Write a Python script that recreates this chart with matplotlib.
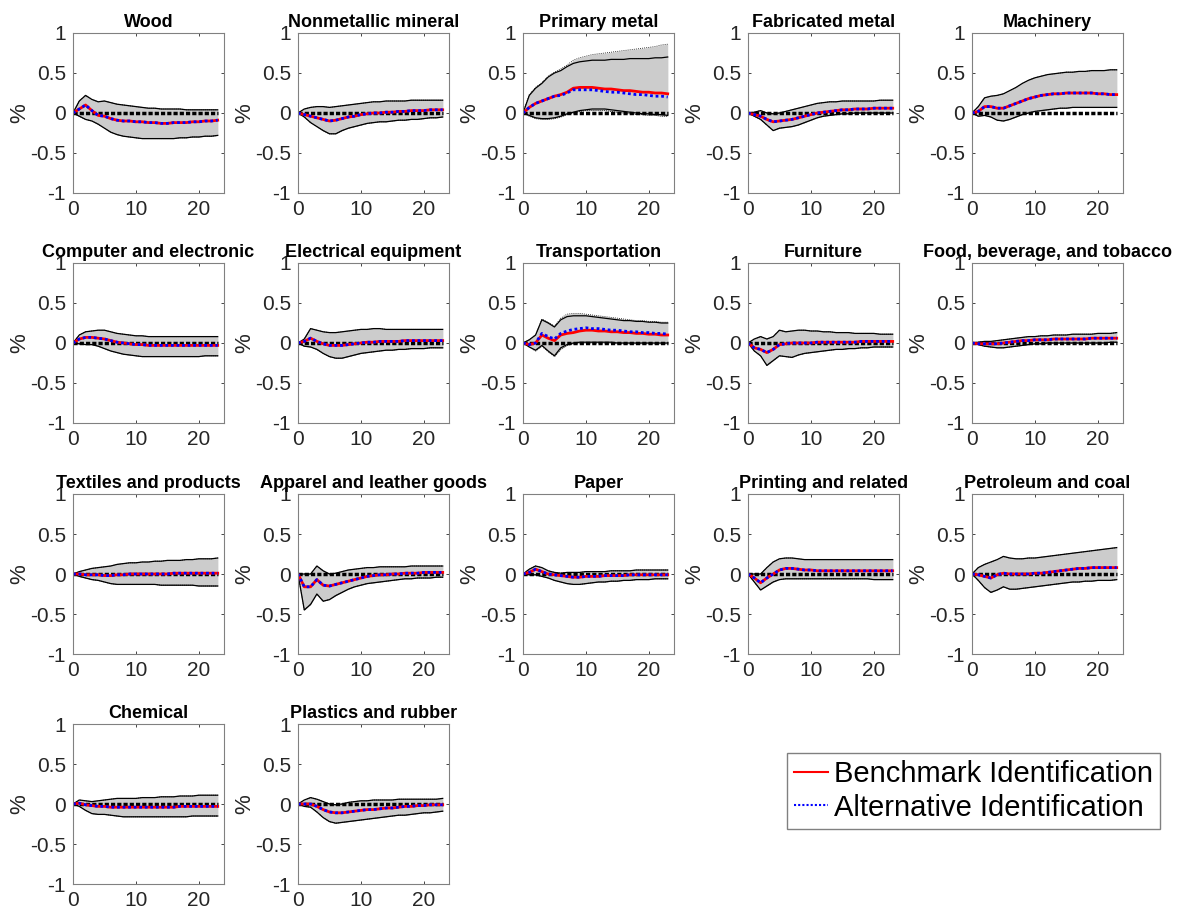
import numpy as np
import matplotlib
matplotlib.use("Agg")
import matplotlib.pyplot as plt

plt.rcParams["font.family"] = ["Liberation Sans", "DejaVu Sans"]

# impulse responses by industry, horizons 0..23 (months)
horizon = np.arange(24)

wood_up = [0, 0.15, 0.22, 0.17, 0.14, 0.15, 0.13, 0.11, 0.10, 0.09, 0.08, 0.07, 0.06, 0.06, 0.05, 0.05, 0.05, 0.05, 0.04, 0.04, 0.04, 0.04, 0.04, 0.04]
wood_lo = [0, -0.04, -0.08, -0.10, -0.14, -0.19, -0.24, -0.27, -0.29, -0.30, -0.31, -0.32, -0.32, -0.32, -0.32, -0.32, -0.32, -0.31, -0.31, -0.30, -0.30, -0.29, -0.29, -0.28]
wood_irf = [0, 0.05, 0.10, 0.03, -0.03, -0.04, -0.07, -0.09, -0.10, -0.10, -0.11, -0.11, -0.12, -0.12, -0.13, -0.13, -0.12, -0.12, -0.12, -0.11, -0.11, -0.10, -0.10, -0.09]

nonmet_up = [0, 0.05, 0.07, 0.08, 0.08, 0.07, 0.08, 0.09, 0.10, 0.11, 0.12, 0.13, 0.14, 0.14, 0.15, 0.15, 0.15, 0.15, 0.16, 0.16, 0.16, 0.16, 0.16, 0.16]
nonmet_lo = [0, -0.05, -0.12, -0.17, -0.22, -0.26, -0.26, -0.22, -0.19, -0.17, -0.15, -0.13, -0.12, -0.11, -0.11, -0.10, -0.09, -0.09, -0.08, -0.08, -0.07, -0.06, -0.06, -0.05]
nonmet_irf = [0, -0.02, -0.04, -0.06, -0.08, -0.10, -0.09, -0.07, -0.05, -0.04, -0.02, -0.01, 0, 0, 0.01, 0.01, 0.02, 0.02, 0.03, 0.03, 0.03, 0.04, 0.04, 0.04]

pmetal_up = [0, 0.22, 0.31, 0.37, 0.45, 0.50, 0.53, 0.58, 0.62, 0.64, 0.65, 0.66, 0.66, 0.66, 0.67, 0.67, 0.67, 0.68, 0.68, 0.68, 0.68, 0.69, 0.69, 0.70]
pmetal_lo = [0, -0.03, -0.06, -0.07, -0.07, -0.06, -0.04, -0.01, 0.01, 0.03, 0.04, 0.05, 0.05, 0.05, 0.04, 0.03, 0.02, 0.01, 0.0, -0.01, -0.01, -0.02, -0.02, -0.03]
pmetal_irf = [0, 0.07, 0.12, 0.15, 0.18, 0.21, 0.23, 0.26, 0.31, 0.32, 0.32, 0.32, 0.31, 0.30, 0.30, 0.29, 0.28, 0.28, 0.27, 0.26, 0.26, 0.25, 0.25, 0.24]
pmetal_alt_up = [0, 0.23, 0.32, 0.38, 0.46, 0.51, 0.55, 0.60, 0.66, 0.69, 0.71, 0.73, 0.74, 0.75, 0.76, 0.77, 0.78, 0.79, 0.80, 0.81, 0.82, 0.83, 0.85, 0.86]
pmetal_alt_lo = [0, -0.04, -0.07, -0.08, -0.08, -0.07, -0.05, -0.02, 0.0, 0.02, 0.03, 0.03, 0.03, 0.03, 0.02, 0.01, 0.0, -0.01, -0.02, -0.02, -0.03, -0.03, -0.04, -0.04]
pmetal_alt = [0, 0.07, 0.12, 0.15, 0.18, 0.21, 0.22, 0.25, 0.29, 0.29, 0.29, 0.29, 0.28, 0.27, 0.26, 0.26, 0.25, 0.24, 0.23, 0.23, 0.22, 0.21, 0.21, 0.20]

fabmet_up = [0, 0.01, 0.03, 0.0, -0.01, 0.0, 0.02, 0.04, 0.06, 0.08, 0.10, 0.12, 0.13, 0.14, 0.14, 0.15, 0.15, 0.15, 0.15, 0.15, 0.15, 0.16, 0.16, 0.16]
fabmet_lo = [0, -0.04, -0.08, -0.15, -0.22, -0.19, -0.18, -0.17, -0.15, -0.12, -0.09, -0.06, -0.04, -0.03, -0.02, -0.01, -0.01, 0, 0, 0, 0, 0, 0, 0]
fabmet_irf = [0, -0.02, -0.04, -0.08, -0.11, -0.10, -0.09, -0.08, -0.06, -0.04, -0.02, 0, 0.01, 0.02, 0.03, 0.04, 0.04, 0.05, 0.05, 0.05, 0.06, 0.06, 0.06, 0.06]

mach_up = [0, 0.08, 0.19, 0.21, 0.22, 0.24, 0.28, 0.32, 0.37, 0.41, 0.44, 0.46, 0.48, 0.49, 0.50, 0.51, 0.51, 0.52, 0.52, 0.53, 0.53, 0.53, 0.54, 0.54]
mach_lo = [0, -0.04, -0.03, -0.05, -0.09, -0.10, -0.08, -0.05, -0.02, 0.0, 0.02, 0.03, 0.04, 0.05, 0.06, 0.06, 0.07, 0.07, 0.07, 0.07, 0.07, 0.07, 0.07, 0.07]
mach_irf = [0, 0.02, 0.08, 0.08, 0.06, 0.06, 0.09, 0.12, 0.15, 0.18, 0.20, 0.22, 0.23, 0.24, 0.24, 0.25, 0.25, 0.25, 0.25, 0.25, 0.24, 0.24, 0.23, 0.23]

comp_up = [0, 0.10, 0.14, 0.15, 0.16, 0.16, 0.14, 0.12, 0.11, 0.10, 0.09, 0.09, 0.08, 0.08, 0.08, 0.08, 0.08, 0.08, 0.08, 0.08, 0.08, 0.08, 0.08, 0.08]
comp_lo = [0, -0.01, -0.02, -0.02, -0.04, -0.07, -0.10, -0.12, -0.14, -0.15, -0.16, -0.17, -0.17, -0.17, -0.17, -0.17, -0.17, -0.17, -0.17, -0.17, -0.17, -0.16, -0.16, -0.16]
comp_irf = [0, 0.05, 0.07, 0.07, 0.06, 0.05, 0.03, 0.01, 0.0, -0.01, -0.02, -0.02, -0.03, -0.03, -0.03, -0.03, -0.03, -0.03, -0.03, -0.03, -0.03, -0.03, -0.03, -0.03]

elec_up = [0, 0.05, 0.18, 0.16, 0.14, 0.13, 0.13, 0.14, 0.15, 0.16, 0.17, 0.17, 0.18, 0.18, 0.17, 0.17, 0.17, 0.17, 0.17, 0.17, 0.17, 0.17, 0.17, 0.17]
elec_lo = [0, -0.04, -0.05, -0.08, -0.13, -0.17, -0.19, -0.19, -0.17, -0.15, -0.13, -0.12, -0.11, -0.10, -0.09, -0.09, -0.08, -0.08, -0.07, -0.07, -0.07, -0.06, -0.06, -0.06]
elec_irf = [0, 0.02, 0.06, 0.02, -0.01, -0.03, -0.03, -0.03, -0.02, -0.01, 0, 0.01, 0.01, 0.02, 0.02, 0.02, 0.02, 0.03, 0.03, 0.03, 0.03, 0.03, 0.03, 0.03]

trans_up = [0, 0.04, 0.10, 0.29, 0.25, 0.20, 0.29, 0.33, 0.34, 0.34, 0.34, 0.33, 0.32, 0.31, 0.30, 0.29, 0.28, 0.28, 0.27, 0.27, 0.26, 0.26, 0.25, 0.25]
trans_lo = [0, -0.05, -0.09, -0.03, -0.10, -0.16, -0.06, -0.02, 0.0, 0.01, 0.01, 0.01, 0.01, 0.01, 0.01, 0.0, 0.0, 0.0, 0.0, 0.0, 0.0, 0.0, 0.0, 0.0]
trans_irf = [0, -0.02, 0.0, 0.10, 0.06, 0.03, 0.10, 0.12, 0.13, 0.15, 0.16, 0.16, 0.15, 0.15, 0.14, 0.14, 0.13, 0.13, 0.12, 0.12, 0.11, 0.11, 0.10, 0.10]
trans_alt_up = [0, 0.04, 0.10, 0.30, 0.26, 0.21, 0.31, 0.36, 0.37, 0.37, 0.36, 0.35, 0.34, 0.33, 0.32, 0.31, 0.30, 0.29, 0.28, 0.28, 0.27, 0.27, 0.26, 0.26]
trans_alt_lo = [0, -0.05, -0.10, -0.04, -0.11, -0.17, -0.08, -0.03, -0.01, 0.0, 0.0, 0.0, 0.0, 0.0, 0.0, -0.01, -0.01, -0.01, -0.01, -0.01, -0.01, -0.01, -0.01, -0.01]
trans_alt = [0, -0.02, 0.0, 0.12, 0.08, 0.05, 0.12, 0.15, 0.17, 0.18, 0.19, 0.18, 0.18, 0.17, 0.16, 0.16, 0.15, 0.14, 0.14, 0.13, 0.13, 0.12, 0.12, 0.11]

furn_up = [0, 0.05, 0.08, 0.05, 0.08, 0.16, 0.14, 0.15, 0.16, 0.16, 0.15, 0.15, 0.14, 0.14, 0.13, 0.13, 0.13, 0.12, 0.12, 0.12, 0.12, 0.11, 0.11, 0.11]
furn_lo = [0, -0.10, -0.16, -0.28, -0.22, -0.16, -0.17, -0.18, -0.15, -0.13, -0.12, -0.11, -0.10, -0.09, -0.08, -0.08, -0.07, -0.07, -0.06, -0.06, -0.05, -0.05, -0.05, -0.05]
furn_irf = [0, -0.06, -0.08, -0.12, -0.08, -0.02, -0.01, 0.0, 0.0, 0.0, 0.0, 0.01, 0.01, 0.01, 0.01, 0.01, 0.01, 0.01, 0.02, 0.02, 0.02, 0.02, 0.02, 0.02]

food_up = [0, 0.01, 0.02, 0.02, 0.03, 0.04, 0.05, 0.06, 0.07, 0.08, 0.08, 0.09, 0.09, 0.10, 0.10, 0.10, 0.11, 0.11, 0.11, 0.11, 0.12, 0.12, 0.12, 0.13]
food_lo = [0, -0.02, -0.04, -0.05, -0.06, -0.06, -0.05, -0.04, -0.03, -0.02, -0.01, -0.01, 0, 0, 0, 0, 0, 0, 0, 0, 0, 0, 0.01, 0.01]
food_irf = [0, -0.01, -0.01, -0.01, -0.01, 0, 0.01, 0.02, 0.03, 0.03, 0.04, 0.04, 0.04, 0.05, 0.05, 0.05, 0.05, 0.05, 0.05, 0.06, 0.06, 0.06, 0.06, 0.06]

text_up = [0, 0.03, 0.05, 0.07, 0.08, 0.09, 0.10, 0.12, 0.13, 0.14, 0.14, 0.15, 0.15, 0.16, 0.16, 0.17, 0.17, 0.17, 0.18, 0.18, 0.19, 0.19, 0.19, 0.20]
text_lo = [0, -0.03, -0.05, -0.07, -0.08, -0.10, -0.12, -0.13, -0.13, -0.13, -0.13, -0.13, -0.13, -0.13, -0.14, -0.14, -0.14, -0.14, -0.14, -0.14, -0.15, -0.15, -0.15, -0.15]
text_irf = [0, 0, -0.01, -0.01, -0.01, -0.02, -0.02, -0.01, -0.01, 0, 0, 0, 0, 0, 0, 0, 0.01, 0.01, 0.01, 0.01, 0.01, 0.01, 0.01, 0.01]

app_up = [0, 0.0, 0.0, 0.10, 0.04, 0.0, 0.01, 0.03, 0.05, 0.06, 0.07, 0.08, 0.08, 0.09, 0.09, 0.09, 0.09, 0.09, 0.10, 0.10, 0.10, 0.10, 0.10, 0.10]
app_lo = [0, -0.45, -0.38, -0.25, -0.34, -0.32, -0.27, -0.23, -0.19, -0.16, -0.14, -0.12, -0.11, -0.10, -0.09, -0.08, -0.07, -0.06, -0.06, -0.05, -0.05, -0.05, -0.04, -0.04]
app_irf = [0, -0.16, -0.16, -0.07, -0.14, -0.15, -0.13, -0.11, -0.09, -0.07, -0.05, -0.03, -0.02, -0.01, -0.01, 0, 0, 0.01, 0.01, 0.01, 0.02, 0.02, 0.02, 0.02]

paper_up = [0, 0.06, 0.10, 0.08, 0.04, 0.02, 0.01, 0.02, 0.02, 0.02, 0.03, 0.03, 0.03, 0.03, 0.04, 0.04, 0.04, 0.04, 0.05, 0.05, 0.05, 0.05, 0.05, 0.05]
paper_lo = [0, -0.01, -0.01, -0.03, -0.05, -0.08, -0.10, -0.12, -0.13, -0.13, -0.12, -0.11, -0.10, -0.10, -0.09, -0.09, -0.08, -0.08, -0.07, -0.07, -0.07, -0.06, -0.06, -0.06]
paper_irf = [0, 0.02, 0.06, 0.03, 0.0, -0.01, -0.02, -0.03, -0.04, -0.04, -0.03, -0.03, -0.03, -0.02, -0.02, -0.02, -0.02, -0.01, -0.01, -0.01, -0.01, -0.01, -0.01, -0.01]

print_up = [0, 0.0, 0.0, 0.08, 0.15, 0.19, 0.20, 0.20, 0.19, 0.18, 0.18, 0.18, 0.18, 0.18, 0.18, 0.18, 0.18, 0.18, 0.18, 0.18, 0.18, 0.18, 0.18, 0.18]
print_lo = [0, -0.10, -0.20, -0.15, -0.10, -0.07, -0.06, -0.06, -0.06, -0.06, -0.06, -0.06, -0.06, -0.06, -0.06, -0.06, -0.06, -0.06, -0.06, -0.06, -0.07, -0.07, -0.07, -0.07]
print_irf = [0, -0.05, -0.11, -0.05, 0.0, 0.05, 0.07, 0.07, 0.06, 0.05, 0.05, 0.04, 0.04, 0.04, 0.04, 0.04, 0.04, 0.04, 0.04, 0.04, 0.04, 0.04, 0.04, 0.04]

petro_up = [0, 0.08, 0.12, 0.15, 0.18, 0.22, 0.20, 0.19, 0.19, 0.20, 0.20, 0.21, 0.22, 0.23, 0.24, 0.25, 0.26, 0.27, 0.28, 0.29, 0.30, 0.31, 0.32, 0.33]
petro_lo = [0, -0.08, -0.17, -0.23, -0.20, -0.16, -0.19, -0.19, -0.18, -0.17, -0.16, -0.15, -0.14, -0.13, -0.12, -0.11, -0.10, -0.10, -0.09, -0.09, -0.08, -0.08, -0.08, -0.07]
petro_irf = [0, -0.01, -0.03, -0.05, -0.01, 0.01, 0.0, 0.0, 0.0, 0.0, 0.01, 0.01, 0.02, 0.03, 0.04, 0.05, 0.06, 0.07, 0.07, 0.08, 0.08, 0.08, 0.08, 0.08]

chem_up = [0, 0.05, 0.04, 0.03, 0.04, 0.05, 0.06, 0.07, 0.07, 0.07, 0.07, 0.08, 0.08, 0.08, 0.09, 0.09, 0.09, 0.10, 0.10, 0.10, 0.11, 0.11, 0.11, 0.11]
chem_lo = [0, -0.03, -0.08, -0.12, -0.13, -0.13, -0.14, -0.15, -0.16, -0.16, -0.16, -0.16, -0.16, -0.16, -0.16, -0.16, -0.16, -0.16, -0.16, -0.15, -0.15, -0.15, -0.15, -0.15]
chem_irf = [0, 0.01, -0.01, -0.02, -0.03, -0.03, -0.04, -0.04, -0.04, -0.04, -0.04, -0.04, -0.04, -0.04, -0.04, -0.04, -0.04, -0.03, -0.03, -0.03, -0.03, -0.03, -0.03, -0.03]

plast_up = [0, 0.05, 0.08, 0.06, 0.03, 0.0, -0.01, 0.0, 0.02, 0.03, 0.04, 0.04, 0.05, 0.05, 0.05, 0.05, 0.06, 0.06, 0.06, 0.06, 0.06, 0.06, 0.06, 0.07]
plast_lo = [0, -0.03, -0.04, -0.10, -0.17, -0.22, -0.24, -0.23, -0.22, -0.21, -0.20, -0.19, -0.18, -0.17, -0.16, -0.15, -0.14, -0.14, -0.13, -0.12, -0.11, -0.11, -0.10, -0.09]
plast_irf = [0, 0.0, 0.0, -0.03, -0.07, -0.10, -0.11, -0.11, -0.10, -0.09, -0.08, -0.07, -0.07, -0.06, -0.05, -0.05, -0.04, -0.03, -0.03, -0.02, -0.02, -0.01, -0.01, -0.01]

# (title, benchmark band lo/up, benchmark irf, alternative band lo/up, alternative irf)
# where the alternative identification is not listed separately it lies on the benchmark
panels = [
    ("Wood", wood_lo, wood_up, wood_irf, None, None, None),
    ("Nonmetallic mineral", nonmet_lo, nonmet_up, nonmet_irf, None, None, None),
    ("Primary metal", pmetal_lo, pmetal_up, pmetal_irf, pmetal_alt_lo, pmetal_alt_up, pmetal_alt),
    ("Fabricated metal", fabmet_lo, fabmet_up, fabmet_irf, None, None, None),
    ("Machinery", mach_lo, mach_up, mach_irf, None, None, None),
    ("Computer and electronic", comp_lo, comp_up, comp_irf, None, None, None),
    ("Electrical equipment", elec_lo, elec_up, elec_irf, None, None, None),
    ("Transportation", trans_lo, trans_up, trans_irf, trans_alt_lo, trans_alt_up, trans_alt),
    ("Furniture", furn_lo, furn_up, furn_irf, None, None, None),
    ("Food, beverage, and tobacco", food_lo, food_up, food_irf, None, None, None),
    ("Textiles and products", text_lo, text_up, text_irf, None, None, None),
    ("Apparel and leather goods", app_lo, app_up, app_irf, None, None, None),
    ("Paper", paper_lo, paper_up, paper_irf, None, None, None),
    ("Printing and related", print_lo, print_up, print_irf, None, None, None),
    ("Petroleum and coal", petro_lo, petro_up, petro_irf, None, None, None),
    ("Chemical", chem_lo, chem_up, chem_irf, None, None, None),
    ("Plastics and rubber", plast_lo, plast_up, plast_irf, None, None, None),
]

W, H = 1192, 914
fig = plt.figure(figsize=(W / 100, H / 100), dpi=100)

col_left = [73, 298, 523, 748, 972]
row_top = [33, 263, 494, 724]
ax_w, ax_h = 151, 160
axcol = "0.15"

for i, (title, lo, up, irf, alo, aup, airf) in enumerate(panels):
    r, c = divmod(i, 5)
    ax = fig.add_axes([col_left[c] / W, 1 - (row_top[r] + ax_h) / H, ax_w / W, ax_h / H])
    alo = lo if alo is None else alo
    aup = up if aup is None else aup
    airf = irf if airf is None else airf

    ax.fill_between(horizon, alo, aup, color="0.8", lw=0)
    ax.fill_between(horizon, lo, up, color="0.8", lw=0)
    ax.plot(horizon, aup, color="k", lw=0.6, ls=(0, (1, 1.5)))
    ax.plot(horizon, alo, color="k", lw=0.6, ls=(0, (1, 1.5)))
    ax.plot(horizon, up, color="k", lw=0.9)
    ax.plot(horizon, lo, color="k", lw=0.9)
    ax.plot(horizon, np.zeros(len(horizon)), color="k", lw=2.5, ls=(0, (1.2, 0.6)))
    ax.plot(horizon, irf, color="red", lw=2.0, label="Benchmark Identification")
    ax.plot(horizon, airf, color="blue", lw=2.0, ls=(0, (1, 1)), label="Alternative Identification")

    ax.set_xlim(0, 24)
    ax.set_ylim(-1, 1)
    ax.set_xticks([0, 10, 20])
    ax.set_yticks([-1, -0.5, 0, 0.5, 1])
    ax.set_yticklabels(["-1", "-0.5", "0", "0.5", "1"])
    ax.tick_params(direction="in", length=2.5, width=0.6, top=True, right=True,
                   labelsize=15, colors=axcol, labelcolor=axcol, pad=5)
    for s in ax.spines.values():
        s.set_color("0.5")
        s.set_linewidth(0.8)
    ax.set_title(title, fontsize=13, fontweight="bold", pad=4)
    ax.set_ylabel("%", fontsize=16, color=axcol)
    ax.yaxis.set_label_coords(-0.28, 0.5)

    if i == 0:
        handles, labels = ax.get_legend_handles_labels()

leg = fig.legend(handles[-2:], labels[-2:], loc="upper left",
                 bbox_to_anchor=(787 / W, 1 - 753 / H), borderaxespad=0,
                 fontsize=21, handlelength=1.15, handletextpad=0.2,
                 labelspacing=0.18, borderpad=0.25, fancybox=False, framealpha=1)
leg.get_frame().set_edgecolor("0.5")
leg.get_frame().set_linewidth(1.0)
for h in leg.get_lines():
    h.set_linewidth(1.5)

fig.savefig("out.png", dpi=100)
